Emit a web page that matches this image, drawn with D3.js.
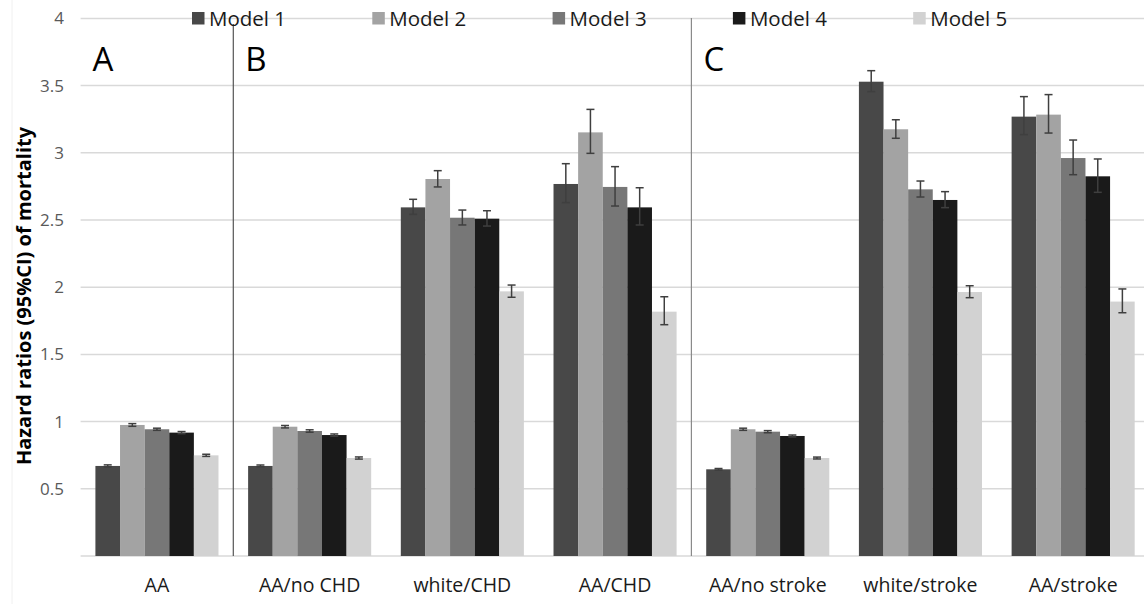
<!DOCTYPE html>
<html><head><meta charset="utf-8">
<script src="https://cdn.jsdelivr.net/npm/d3@7"></script>
<style>body{margin:0;background:#fff;} svg{display:block;font-family:"Open Sans","Noto Sans",sans-serif;}</style>
</head><body><svg id="c" width="1144" height="604"></svg>
<script>
const categories = ["AA","AA/no CHD","white/CHD","AA/CHD","AA/no stroke","white/stroke","AA/stroke"];
const seriesNames = ["Model 1","Model 2","Model 3","Model 4","Model 5"];
const colors = ["#484848","#a3a3a3","#777777","#1a1a1a","#d2d2d2"];
const model1 = [0.670,0.670,2.594,2.768,0.645,3.529,3.269];
const model2 = [0.975,0.962,2.805,3.152,0.943,3.175,3.284];
const model3 = [0.943,0.930,2.517,2.746,0.925,2.728,2.961];
const model4 = [0.918,0.900,2.510,2.594,0.893,2.649,2.825];
const model5 = [0.749,0.729,1.969,1.818,0.729,1.964,1.893];
const low1 = [0.662,0.663,2.542,2.629,0.639,3.455,3.135];
const high1 = [0.678,0.677,2.654,2.919,0.651,3.611,3.418];
const low2 = [0.965,0.953,2.746,2.996,0.935,3.108,3.147];
const high2 = [0.985,0.971,2.867,3.323,0.951,3.246,3.433];
const low3 = [0.935,0.921,2.463,2.604,0.917,2.671,2.837];
const high3 = [0.951,0.939,2.574,2.897,0.933,2.790,3.095];
const low4 = [0.910,0.892,2.455,2.463,0.886,2.592,2.706];
const high4 = [0.926,0.908,2.569,2.740,0.900,2.711,2.954];
const low5 = [0.741,0.721,1.925,1.721,0.722,1.922,1.810];
const high5 = [0.757,0.737,2.016,1.929,0.736,2.011,1.987];
const yTicks = [0.5,1,1.5,2,2.5,3,3.5,4];
const panels = [{label:"A", cat:0},{label:"B", cat:1},{label:"C", cat:4}];
const separatorsAfter = [0,3];

const values = [model1,model2,model3,model4,model5];
const lows = [low1,low2,low3,low4,low5];
const highs = [high1,high2,high3,high4,high5];

const svg = d3.select("#c");
const x0 = 80.6, x1 = 80.6 + 7*152.7;
const x = d3.scaleBand().domain(categories).range([x0,x1]).paddingInner(0.194).paddingOuter(0.097);
const xs = d3.scaleBand().domain(seriesNames).range([0, x.bandwidth()]);
const y = d3.scaleLinear().domain([0,4]).range([556,18.4]);

svg.append("line").attr("x1",12).attr("x2",12).attr("y1",0).attr("y2",604).attr("stroke","#f0f0f0");

// gridlines
svg.append("g").selectAll("line").data(yTicks).join("line")
  .attr("x1",x0).attr("x2",1144).attr("y1",d=>y(d)).attr("y2",d=>y(d))
  .attr("stroke","#d9d9d9").attr("stroke-width",1.5);
svg.append("line").attr("x1",x0).attr("x2",1144).attr("y1",y(0)).attr("y2",y(0)).attr("stroke","#d9d9d9").attr("stroke-width",1.5);

// y axis labels
const yAxis = d3.axisLeft(y).tickValues(yTicks).tickSize(0).tickPadding(0).tickFormat(d3.format("~g"));
const ya = svg.append("g").attr("transform","translate(64,0)").call(yAxis);
ya.select(".domain").remove();
ya.selectAll("text").attr("fill","#595959").style("font-size","17px").style("font-family","'Open Sans',sans-serif");

// bars
const g = svg.append("g");
seriesNames.forEach((s,si)=>{
  g.append("g").selectAll("rect").data(categories).join("rect")
    .attr("x",c=>x(c)+xs(s)).attr("width",xs.bandwidth())
    .attr("y",(c,i)=>y(values[si][i])).attr("height",(c,i)=>y(0)-y(values[si][i]))
    .attr("fill",colors[si]);
});
// error bars
seriesNames.forEach((s,si)=>{
  const eg = g.append("g").attr("stroke","#3f3f3f").attr("stroke-width",1.5);
  categories.forEach((c,i)=>{
    const cx = x(c)+xs(s)+xs.bandwidth()/2;
    eg.append("line").attr("x1",cx).attr("x2",cx).attr("y1",y(lows[si][i])).attr("y2",y(highs[si][i]));
    eg.append("line").attr("x1",cx-4).attr("x2",cx+4).attr("y1",y(lows[si][i])).attr("y2",y(lows[si][i]));
    eg.append("line").attr("x1",cx-4).attr("x2",cx+4).attr("y1",y(highs[si][i])).attr("y2",y(highs[si][i]));
  });
});

// separators
const step = x.step();
svg.append("g").selectAll("line").data(separatorsAfter).join("line")
  .attr("x1",d=>x0+(d+1)*step).attr("x2",d=>x0+(d+1)*step)
  .attr("y1",(d,i)=> i===0?24:18).attr("y2",y(0))
  .attr("stroke",(d,i)=> i===0?"#555":"#8a8a8a").attr("stroke-width",1.2);

// panel letters
svg.append("g").selectAll("text").data(panels).join("text")
  .attr("x",d=>x0+d.cat*step+12).attr("y",71)
  .style("font-size","33px").attr("fill","#000")
  .style("font-family","'Open Sans',sans-serif").text(d=>d.label);

// x labels
svg.append("g").selectAll("text").data(categories).join("text")
  .attr("x",c=>x(c)+x.bandwidth()/2).attr("y",592).attr("text-anchor","middle")
  .style("font-size","19.5px").attr("fill","#1a1a1a").text(c=>c);

// legend
const lg = svg.append("g");
seriesNames.forEach((s,si)=>{
  const lx = 192 + si*180.3;
  lg.append("rect").attr("x",lx).attr("y",12).attr("width",12.5).attr("height",12.5).attr("fill",colors[si]);
  lg.append("text").attr("x",lx+17).attr("y",26).style("font-size","20.5px").attr("fill","#1a1a1a").text(s);
});

// y title
svg.append("text").attr("transform","translate(31,296) rotate(-90)").attr("text-anchor","middle")
  .style("font-size","20px").style("font-weight","bold").attr("fill","#000")
  .text("Hazard ratios (95%CI) of mortality");
</script></body></html>
